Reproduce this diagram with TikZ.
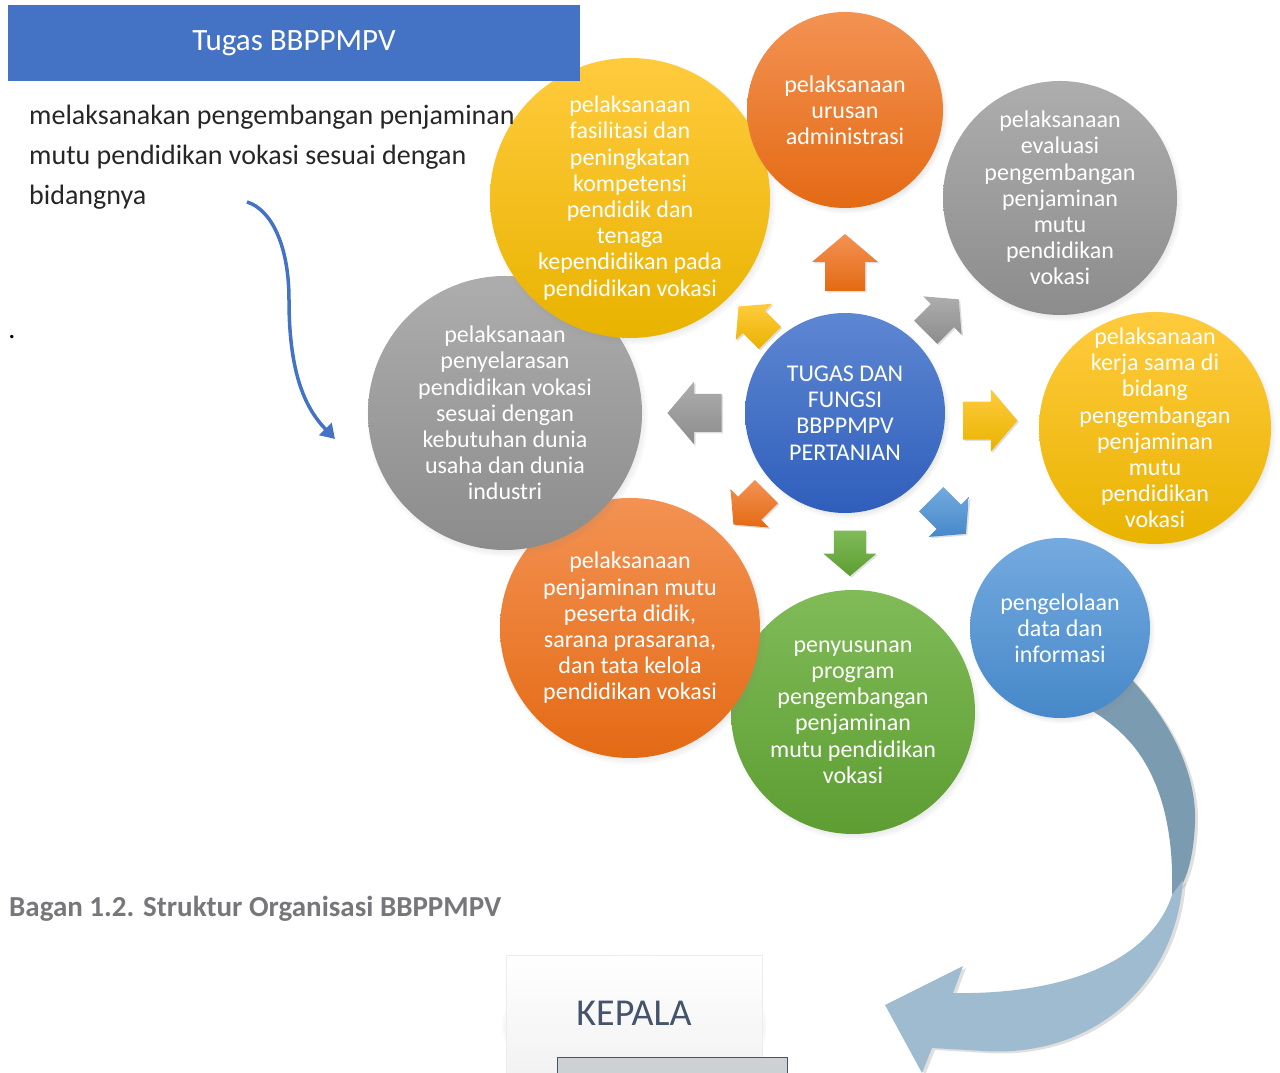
\documentclass[tikz,border=0pt]{standalone}
\usepackage{fontspec}
\setmainfont{Carlito}
\usetikzlibrary{shadows,calc,arrows.meta}

% office palette
\definecolor{hdrblue}{HTML}{4472C4}
\definecolor{orgtop}{HTML}{F39253}
\definecolor{orgbot}{HTML}{E46A14}
\definecolor{grytop}{HTML}{ADADAD}
\definecolor{grybot}{HTML}{8C8C8C}
\definecolor{yeltop}{HTML}{FFCB3D}
\definecolor{yelbot}{HTML}{E9B300}
\definecolor{blutop}{HTML}{5E87D2}
\definecolor{blubot}{HTML}{2F5EBB}
\definecolor{lbltop}{HTML}{74AADF}
\definecolor{lblbot}{HTML}{4688C9}
\definecolor{grntop}{HTML}{80BB58}
\definecolor{grnbot}{HTML}{5D9D32}
\definecolor{bandback}{HTML}{7B9BB0}
\definecolor{bandfront}{HTML}{9FBBD0}
\definecolor{bodytext}{HTML}{262626}
\definecolor{captext}{HTML}{77777B}
\definecolor{kepalatxt}{HTML}{44546A}
\definecolor{subfill}{HTML}{CDD1D3}

\tikzset{
  bubble/.style={circle, inner sep=0pt, draw=none,
    circular drop shadow={shadow scale=1.03, opacity=0.4, shadow xshift=2pt, shadow yshift=-3pt}},
  bubtext/.style={text=white, align=center, inner sep=0pt, font=\fontsize{24}{26.2}\selectfont},
  orangeball/.style={top color=orgtop, bottom color=orgbot},
  grayball/.style={top color=grytop, bottom color=grybot},
  yellowball/.style={top color=yeltop, bottom color=yelbot},
  blueball/.style={top color=blutop, bottom color=blubot},
  lightball/.style={top color=lbltop, bottom color=lblbot},
  greenball/.style={top color=grntop, bottom color=grnbot},
  arrowblk/.style={drop shadow={opacity=0.25, shadow xshift=1.5pt, shadow yshift=-1.5pt}},
}

% block arrow: position, angle, scale, colour style
\newcommand{\blkarrow}[4]{%
  \begin{scope}[shift={#1}, rotate=#2, scale=#3]
    \path[arrowblk, #4] (-28,-20) -- (1,-20) -- (1,-33) -- (29,0) -- (1,33) -- (1,20) -- (-28,20) -- cycle;
  \end{scope}}

\begin{document}
\begin{tikzpicture}[x=1pt, y=1pt]
    \useasboundingbox (0,0) rectangle (1280,1073);

    % curved ribbon arrow behind the circles
    \path[fill=bandback, drop shadow={opacity=0.25, shadow xshift=3pt, shadow yshift=-2pt}]
        (1110,415) .. controls (1170,360) and (1197,300) .. (1195,250)
        .. controls (1194,225) and (1190,205) .. (1183,190)
        -- (1172,178) .. controls (1174,240) and (1162,290) .. (1135,325)
        .. controls (1115,350) and (1090,365) .. (1060,380) -- cycle;
    \path[fill=bandfront, drop shadow={opacity=0.25, shadow xshift=3pt, shadow yshift=-2pt}]
        (1183,193) .. controls (1175,85) and (1090,15) .. (983,22)
        -- (932,25) -- (922,0) -- (885,68) -- (963,107) -- (953,80)
        .. controls (1060,78) and (1150,110) .. (1172,178) -- cycle;

    % circles
    \node[bubble, greenball, minimum size=244] (penyusunan) at (853,361) {};
    \node[bubble, orangeball, minimum size=260] (penjaminan) at (630,445) {};
    \node[bubble, grayball, minimum size=274] (penyelarasan) at (505,660) {};
    \node[bubble, yellowball, minimum size=280] (fasilitasi) at (630,875) {};
    \node[bubble, orangeball, minimum size=196] (admin) at (845,963) {};
    \node[bubble, grayball, minimum size=234] (evaluasi) at (1060,875) {};
    \node[bubble, yellowball, minimum size=232] (kerjasama) at (1155,645) {};
    \node[bubble, lightball, minimum size=180] (datainfo) at (1060,445) {};
    \node[bubble, blueball, minimum size=200] (tugas) at (845,660) {};

    % arrows around the centre
    \blkarrow{($(tugas)+(90:150)$)}{90}{1}{orangeball}
    \blkarrow{($(tugas)+(45:137)$)}{45}{0.82}{grayball}
    \blkarrow{($(tugas)+(-3:145)$)}{0}{0.95}{yellowball}
    \blkarrow{($(tugas)+(-45:146)$)}{-45}{0.86}{lightball}
    \blkarrow{($(tugas)+(-88:140)$)}{-90}{0.8}{greenball}
    \blkarrow{($(tugas)+(-135:134)$)}{-135}{0.82}{orangeball}
    \blkarrow{($(tugas)+(180:150)$)}{180}{0.95}{grayball}
    \blkarrow{($(tugas)+(135:128)$)}{135}{0.78}{yellowball}

    % circle texts
    \node[bubtext] (tadmin) at (admin) {pelaksanaan\\urusan\\administrasi};
    \node[bubtext] (tevaluasi) at (evaluasi) {pelaksanaan\\evaluasi\\pengembangan\\penjaminan\\mutu\\pendidikan\\vokasi};
    \node[bubtext] (tkerjasama) at (kerjasama) {pelaksanaan\\kerja sama di\\bidang\\pengembangan\\penjaminan\\mutu\\pendidikan\\vokasi};
    \node[bubtext] (tdatainfo) at (datainfo) {pengelolaan\\data dan\\informasi};
    \node[bubtext] (tpenyusunan) at (penyusunan) {penyusunan\\program\\pengembangan\\penjaminan\\mutu pendidikan\\vokasi};
    \node[bubtext] (tpenjaminan) at (penjaminan) {pelaksanaan\\penjaminan mutu\\peserta didik,\\sarana prasarana,\\dan tata kelola\\pendidikan vokasi};
    \node[bubtext] (tpenyelarasan) at (penyelarasan) {pelaksanaan\\penyelarasan\\pendidikan vokasi\\sesuai dengan\\kebutuhan dunia\\usaha dan dunia\\industri};
    \node[bubtext] (tfasilitasi) at (fasilitasi) {pelaksanaan\\fasilitasi dan\\peningkatan\\kompetensi\\pendidik dan\\tenaga\\kependidikan pada\\pendidikan vokasi};
    \node[bubtext] (ttugas) at (tugas) {TUGAS DAN\\FUNGSI\\BBPPMPV\\PERTANIAN};

    % header and description
    \node[fill=hdrblue, minimum width=572, minimum height=76, inner sep=0pt, text=white,
          font=\fontsize{31}{36}\selectfont] (judul) at (294,1030) {Tugas BBPPMPV};
    \node[anchor=north west, inner sep=0pt, align=left, text=bodytext,
          font=\fontsize{28}{40}\selectfont] (uraian) at (29,968)
          {melaksanakan pengembangan penjaminan\\mutu pendidikan vokasi sesuai dengan\\bidangnya};
    \node[text=black, inner sep=0pt, font=\fontsize{28}{34}\selectfont] (titik) at (12,736) {.};

    \coordinate (kurvaawal) at (247,871);
    \coordinate (kurvaakhir) at (335,634);
    \draw[hdrblue, line width=3.5pt, -{Triangle[length=14pt, width=17pt]}]
        (kurvaawal) .. controls (270,864) and (289,830) .. (289,773)
        .. controls (289,700) and (305,665) .. (kurvaakhir);

    % caption and org chart
    \node[anchor=base west, inner sep=0pt, text=captext,
          font=\fontsize{29}{34}\selectfont\bfseries] (bagan) at (9,156)
          {Bagan 1.2. Struktur Organisasi BBPPMPV};
    \node[anchor=north, minimum width=256, minimum height=140, inner sep=0pt,
          top color=white, bottom color=black!6, draw=black!7,
          circular drop shadow={shadow scale=1.04, opacity=0.35, shadow xshift=0pt, shadow yshift=-1pt}] (kepala) at (634,118) {};
    \node[text=kepalatxt, inner sep=0pt, font=\fontsize{38}{44}\selectfont] (tkepala) at (634,60) {KEPALA};
    \node[anchor=north west, minimum width=230, minimum height=40, inner sep=0pt,
          fill=subfill, draw=kepalatxt, line width=0.8pt] (wakil) at (557,16) {};
\end{tikzpicture}
\end{document}
